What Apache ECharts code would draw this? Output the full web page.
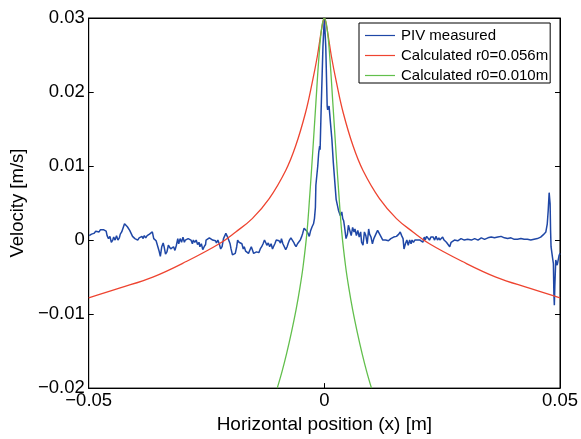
<!DOCTYPE html>
<html>
<head>
<meta charset="utf-8">
<script src="https://cdn.jsdelivr.net/npm/echarts@6/dist/echarts.min.js"></script>
<style>html,body{margin:0;padding:0;background:#fff}#c{width:581px;height:439px}</style>
</head>
<body>
<div id="c"></div>
<script>
// ---- data ----
const xTickValues = [-0.05, 0, 0.05];
const xTickLabels = ['\u22120.05', '0', '0.05'];
const yTickValues = [-0.02, -0.01, 0, 0.01, 0.02, 0.03];
const yTickLabels = ['\u22120.02', '\u22120.01', '0', '0.01', '0.02', '0.03'];
const seriesNames = ['PIV measured', 'Calculated r0=0.056m', 'Calculated r0=0.010m'];

const pivMeasured = [
[-0.0499,0.0006],[-0.0494,0.0008],[-0.0489,0.0009],[-0.0485,0.0012],[-0.0481,0.0014],[-0.0478,0.0011],[-0.0475,0.0014],[-0.0472,0.0012],[-0.0469,0.0014],[-0.0466,0.0015],
[-0.0463,0.0012],[-0.0461,0.0006],[-0.0458,0.0002],[-0.0455,0.0005],[-0.0452,-0.0003],[-0.0449,0.0000],[-0.0447,0.0004],[-0.0444,0.0000],[-0.0441,0.0006],[-0.0438,0.0000],
[-0.0435,0.0003],[-0.0433,0.0008],[-0.0430,0.0011],[-0.0427,0.0013],[-0.0424,0.0022],[-0.0421,0.0021],[-0.0418,0.0018],[-0.0416,0.0020],[-0.0413,0.0013],[-0.0410,0.0009],
[-0.0407,0.0005],[-0.0404,0.0006],[-0.0402,0.0002],[-0.0399,0.0004],[-0.0396,0.0000],[-0.0393,0.0003],[-0.0390,0.0002],[-0.0387,0.0005],[-0.0385,0.0002],[-0.0382,0.0006],
[-0.0379,0.0003],[-0.0376,0.0006],[-0.0373,0.0004],[-0.0371,0.0008],[-0.0368,0.0008],[-0.0365,0.0011],[-0.0362,0.0002],[-0.0359,0.0000],[-0.0357,-0.0001],[-0.0354,-0.0003],
[-0.0351,-0.0014],[-0.0348,-0.0022],[-0.0345,-0.0009],[-0.0342,-0.0004],[-0.0340,-0.0009],[-0.0337,-0.0019],[-0.0334,-0.0016],[-0.0331,-0.0007],[-0.0328,-0.0005],[-0.0326,-0.0012],
[-0.0323,-0.0010],[-0.0320,-0.0009],[-0.0317,-0.0014],[-0.0314,-0.0007],[-0.0311,0.0002],[-0.0309,-0.0005],[-0.0306,0.0002],[-0.0303,-0.0003],[-0.0300,0.0004],[-0.0297,-0.0003],
[-0.0295,0.0000],[-0.0292,0.0002],[-0.0289,0.0002],[-0.0286,0.0003],[-0.0283,0.0000],[-0.0280,-0.0005],[-0.0278,0.0000],[-0.0275,-0.0003],[-0.0272,0.0000],[-0.0269,-0.0006],
[-0.0266,-0.0003],[-0.0264,-0.0009],[-0.0261,-0.0005],[-0.0258,-0.0013],[-0.0255,-0.0009],[-0.0252,-0.0006],
[-0.0251,0.0000],[-0.0248,0.0002],[-0.0244,0.0003],[-0.0241,0.0002],[-0.0237,0.0000],[-0.0233,0.0002],[-0.0231,-0.0001],[-0.0229,-0.0004],[-0.0226,0.0000],[-0.0223,-0.0005],
[-0.0220,-0.0012],[-0.0217,-0.0009],[-0.0214,0.0002],[-0.0212,0.0004],[-0.0209,0.0009],[-0.0206,0.0005],[-0.0203,0.0000],[-0.0200,-0.0005],[-0.0198,-0.0012],[-0.0195,-0.0020],
[-0.0192,-0.0022],[-0.0189,-0.0018],[-0.0186,-0.0009],[-0.0184,0.0000],[-0.0181,-0.0003],[-0.0178,-0.0001],[-0.0175,-0.0005],[-0.0172,-0.0012],[-0.0170,-0.0009],[-0.0167,-0.0015],
[-0.0164,-0.0013],[-0.0161,-0.0018],[-0.0158,-0.0016],[-0.0155,-0.0009],[-0.0153,-0.0007],[-0.0150,-0.0018],[-0.0147,-0.0020],[-0.0144,-0.0016],[-0.0141,-0.0018],[-0.0139,-0.0017],
[-0.0136,-0.0012],[-0.0133,-0.0009],[-0.0130,-0.0005],[-0.0127,0.0000],[-0.0124,-0.0004],[-0.0122,-0.0007],[-0.0119,-0.0004],[-0.0116,-0.0009],[-0.0113,-0.0005],[-0.0110,-0.0012],
[-0.0108,-0.0009],[-0.0105,-0.0005],[-0.0102,0.0000],[-0.0099,0.0002],[-0.0096,-0.0001],[-0.0093,-0.0004],[-0.0091,0.0002],[-0.0088,-0.0005],[-0.0085,-0.0007],[-0.0082,-0.0013],
[-0.0079,-0.0009],[-0.0077,-0.0005],[-0.0074,0.0000],[-0.0071,0.0003],[-0.0068,0.0000],[-0.0065,-0.0003],[-0.0063,-0.0006],[-0.0060,-0.0009],[-0.0057,-0.0005],[-0.0054,-0.0006],
[-0.0051,0.0000],[-0.0048,0.0005],[-0.0046,0.0009],[-0.0043,0.0016],[-0.0040,0.0015],[-0.0037,0.0012],[-0.0034,0.0008],[-0.0032,0.0005],[-0.0029,0.0013],[-0.0026,0.0018],
[-0.0023,0.0022],[-0.0021,0.0029],
[-0.0019,0.0044],[-0.0018,0.0074],[-0.0014,0.0100],[-0.0012,0.0118],[-0.0010,0.0127],[-0.0009,0.0122],[-0.0007,0.0172],[-0.0003,0.0261],[0.0000,0.0301],[0.0003,0.0261],
[0.0006,0.0181],[0.0007,0.0176],[0.0010,0.0181],[0.0013,0.0158],[0.0016,0.0136],[0.0019,0.0105],[0.0025,0.0055],
[0.0030,0.0040],[0.0034,0.0033],[0.0037,0.0038],[0.0039,0.0029],[0.0041,0.0026],[0.0043,0.0017],[0.0046,0.0002],[0.0049,0.0008],[0.0051,0.0020],[0.0054,0.0013],
[0.0057,0.0006],[0.0060,0.0017],[0.0063,0.0011],[0.0065,0.0015],[0.0068,0.0006],[0.0071,0.0013],[0.0074,0.0004],[0.0077,0.0011],[0.0079,-0.0003],[0.0082,-0.0007],
[0.0085,0.0011],[0.0088,0.0006],[0.0091,-0.0005],[0.0094,0.0015],[0.0096,0.0008],[0.0099,0.0004],[0.0102,-0.0005],[0.0105,0.0002],[0.0108,0.0004],[0.0110,0.0009],
[0.0113,0.0013],[0.0116,0.0011],[0.0119,0.0006],[0.0122,0.0005],[0.0124,0.0000],[0.0127,0.0002],[0.0130,0.0000],[0.0133,0.0000],[0.0136,-0.0001],[0.0139,0.0000],
[0.0141,0.0002],[0.0144,0.0000],[0.0147,0.0004],[0.0150,0.0002],[0.0153,0.0005],[0.0155,0.0004],[0.0158,0.0008],[0.0161,0.0011],[0.0164,0.0006],[0.0167,0.0002],
[0.0169,-0.0012],[0.0172,-0.0005],[0.0175,0.0000],[0.0178,-0.0007],[0.0181,0.0000],[0.0184,-0.0005],[0.0186,0.0000],[0.0189,-0.0003],[0.0192,0.0000],[0.0195,-0.0001],
[0.0198,0.0000],[0.0200,0.0002],[0.0203,0.0000],[0.0206,0.0002],[0.0209,-0.0003],[0.0212,0.0004],[0.0214,0.0000],[0.0217,0.0005],[0.0220,0.0003],[0.0223,0.0000],
[0.0226,0.0004],[0.0229,0.0002],[0.0231,0.0004],[0.0234,0.0000],[0.0237,0.0005],[0.0240,0.0000],[0.0243,0.0003],[0.0245,0.0000],[0.0248,0.0002],[0.0251,0.0004],
[0.0254,0.0000],[0.0257,0.0002],[0.0259,-0.0003],[0.0262,-0.0001],
[0.0266,-0.0009],[0.0269,-0.0003],[0.0276,0.0000],[0.0283,-0.0001],[0.0290,0.0002],[0.0297,0.0000],[0.0304,0.0001],[0.0312,0.0000],[0.0319,0.0002],[0.0326,0.0000],
[0.0333,0.0003],[0.0340,0.0001],[0.0347,0.0003],[0.0354,0.0004],[0.0361,0.0003],[0.0368,0.0004],[0.0375,0.0005],[0.0382,0.0003],[0.0389,0.0002],[0.0396,0.0003],
[0.0403,0.0001],[0.0410,0.0001],[0.0417,0.0002],[0.0424,0.0001],[0.0431,0.0001],[0.0438,0.0000],[0.0445,0.0001],[0.0452,0.0002],[0.0459,0.0004],[0.0463,0.0003],
[0.0466,0.0008],[0.0470,0.0011],[0.0473,0.0022],[0.0475,0.0040],[0.0477,0.0064],[0.0479,0.0049],[0.0480,0.0013],[0.0481,-0.0009],[0.0484,-0.0023],[0.0486,-0.0032],
[0.0487,-0.0072],[0.0488,-0.0088],[0.0489,-0.0063],[0.0491,-0.0027],[0.0494,-0.0034],[0.0498,-0.0021],[0.0500,-0.0018]
];

const calcR056 = [
[-0.0500,-0.0078],[-0.0435,-0.0065],[-0.0364,-0.0050],[-0.0293,-0.0029],[-0.0223,-0.0005],[-0.0188,0.0011],[-0.0153,0.0029],[-0.0117,0.0056],
[-0.0082,0.0094],[-0.0061,0.0127],[-0.0040,0.0172],[-0.0026,0.0212],[-0.0015,0.0248],[-0.0005,0.0288],[0.0000,0.0300],
[0.0005,0.0288],[0.0015,0.0248],[0.0026,0.0212],[0.0040,0.0172],[0.0061,0.0127],[0.0082,0.0094],[0.0117,0.0056],
[0.0153,0.0029],[0.0188,0.0011],[0.0223,-0.0005],[0.0293,-0.0029],[0.0364,-0.0050],[0.0435,-0.0065],[0.0500,-0.0078]
];

const calcR010 = [
[-0.0100,-0.0200],[-0.0090,-0.0178],[-0.0080,-0.0153],[-0.0070,-0.0125],[-0.0060,-0.0094],[-0.0052,-0.0065],[-0.0045,-0.0035],[-0.0037,0.0010],
[-0.0031,0.0060],[-0.0025,0.0116],[-0.0018,0.0185],[-0.0012,0.0243],[-0.0006,0.0285],[0.0000,0.0300],
[0.0006,0.0285],[0.0012,0.0243],[0.0018,0.0185],[0.0025,0.0116],[0.0031,0.0060],[0.0037,0.0010],[0.0045,-0.0035],
[0.0052,-0.0065],[0.0060,-0.0094],[0.0070,-0.0125],[0.0080,-0.0153],[0.0090,-0.0178],[0.0100,-0.0200]
];

// ---- chart ----
const FONT = '"Liberation Sans", Arial, Helvetica, sans-serif';
function lookup(values, labels) {
  return function (v) {
    for (let i = 0; i < values.length; i++) if (Math.abs(values[i] - v) < 1e-9) return labels[i];
    return '';
  };
}
const chart = echarts.init(document.getElementById('c'), null, {renderer: 'canvas'});
const axisLineStyle = {color: '#000', width: 1};
chart.setOption({
  animation: false,
  backgroundColor: '#fff',
  grid: {left: 87, right: 20, top: 18, bottom: 48, show: true, borderColor: '#000', borderWidth: 1, backgroundColor: 'transparent'},
  legend: {
    orient: 'vertical', left: 359, top: 23,
    data: seriesNames,
    itemWidth: 30, itemHeight: 14, itemGap: 5,
    padding: [5, 2, 0, 6],
    backgroundColor: '#fff', borderColor: '#000', borderWidth: 1,
    textStyle: {fontFamily: FONT, fontSize: 15, color: '#000', padding: [0, 0, 0, 1]},
    icon: 'path://M0,0 L30,0 L30,1.2 L0,1.2 Z'
  },
  xAxis: [{
    type: 'value', min: -0.05, max: 0.05, interval: 0.05,
    name: 'Horizontal position (x) [m]', nameLocation: 'middle', nameGap: 25,
    nameTextStyle: {fontFamily: FONT, fontSize: 19, color: '#000'},
    axisLine: {show: true, onZero: false, lineStyle: axisLineStyle},
    axisTick: {show: true, inside: true, length: 5, lineStyle: axisLineStyle},
    axisLabel: {fontFamily: FONT, fontSize: 18.5, color: '#000', margin: 3, formatter: lookup(xTickValues, xTickLabels)},
    splitLine: {show: false}
  }, {
    type: 'value', position: 'top', min: -0.05, max: 0.05, interval: 0.05,
    axisLine: {show: true, onZero: false, lineStyle: axisLineStyle},
    axisTick: {show: true, inside: true, length: 5, lineStyle: axisLineStyle},
    axisLabel: {show: false}, splitLine: {show: false}
  }],
  yAxis: [{
    type: 'value', min: -0.02, max: 0.03, interval: 0.01,
    name: 'Velocity [m/s]', nameLocation: 'middle', nameGap: 58,
    nameTextStyle: {fontFamily: FONT, fontSize: 18.5, color: '#000'},
    axisLine: {show: true, onZero: false, lineStyle: axisLineStyle},
    axisTick: {show: true, inside: true, length: 5, lineStyle: axisLineStyle},
    axisLabel: {fontFamily: FONT, fontSize: 18.5, color: '#000', margin: 4, formatter: lookup(yTickValues, yTickLabels)},
    splitLine: {show: false}
  }, {
    type: 'value', position: 'right', min: -0.02, max: 0.03, interval: 0.01,
    axisLine: {show: true, onZero: false, lineStyle: axisLineStyle},
    axisTick: {show: true, inside: true, length: 5, lineStyle: axisLineStyle},
    axisLabel: {show: false}, splitLine: {show: false}
  }],
  series: [{
    name: seriesNames[0], type: 'line', data: pivMeasured, showSymbol: false, symbol: 'none',
    lineStyle: {color: '#1f47a6', width: 1.5}, itemStyle: {color: '#1f47a6'}, clip: true
  }, {
    name: seriesNames[1], type: 'line', data: calcR056, showSymbol: false, symbol: 'none', smooth: 0.4,
    lineStyle: {color: '#ee4430', width: 1.3}, itemStyle: {color: '#ee4430'}, clip: true
  }, {
    name: seriesNames[2], type: 'line', data: calcR010, showSymbol: false, symbol: 'none', smooth: 0.4,
    lineStyle: {color: '#62bf4c', width: 1.3}, itemStyle: {color: '#62bf4c'}, clip: true
  }]
});
</script>
</body>
</html>
